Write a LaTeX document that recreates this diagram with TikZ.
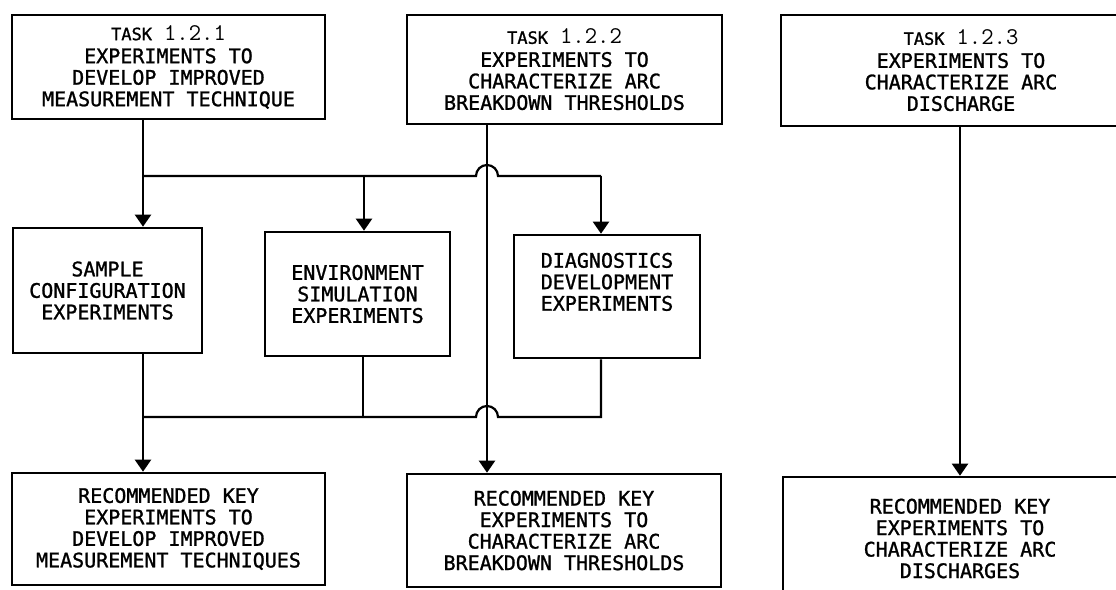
\documentclass[tikz,border=0pt]{standalone}
\usepackage{fontspec}
\newfontfamily\dvm[FakeBold=1.2]{DejaVu Sans Mono}
\usetikzlibrary{arrows.meta}
\newcommand{\tasknum}[1]{{\fontsize{17}{17}\selectfont\dvm TASK} {\fontsize{24}{24}\selectfont\ttfamily\addfontfeature{FakeBold=1.5}#1}}
\tikzset{
  box/.style={draw, line width=2.6pt, inner sep=0pt, align=center,
    font=\fontsize{20}{21.5}\selectfont\dvm},
  conn/.style={line width=2.2pt},
  arr/.style={conn, -{Triangle[length=12pt,width=16pt]}}
}
\begin{document}
\begin{tikzpicture}[x=1pt,y=-1pt]
\path[use as bounding box] (0,0) rectangle (1116,589);
\fill[white] (0,0) rectangle (1116,589);
\clip (0,0) rectangle (1116,589);
% top row
\node[box, minimum width=313pt, minimum height=104pt] (t1) at (168.5,67)
  {\tasknum{1.2.1}\\[1.5pt]EXPERIMENTS TO\\DEVELOP IMPROVED\\MEASUREMENT TECHNIQUE};
\node[box, minimum width=315pt, minimum height=109pt] (t2) at (564.5,69.5)
  {\tasknum{1.2.2}\\[1.5pt]EXPERIMENTS TO\\CHARACTERIZE ARC\\BREAKDOWN THRESHOLDS};
\node[box, minimum width=360pt, minimum height=111pt] (t3) at (961,70.5)
  {\tasknum{1.2.3}\\[1.5pt]EXPERIMENTS TO\\CHARACTERIZE ARC\\DISCHARGE};
% middle row
\node[box, minimum width=189pt, minimum height=125pt] (s) at (107.5,290.5)
  {SAMPLE\\CONFIGURATION\\EXPERIMENTS};
\node[box, minimum width=185pt, minimum height=124pt] (e) at (357.5,294)
  {ENVIRONMENT\\SIMULATION\\EXPERIMENTS};
\node[box, minimum width=186pt, minimum height=123pt] (d) at (607,296.5)
  {DIAGNOSTICS\\DEVELOPMENT\\EXPERIMENTS\\[8pt]};
% bottom row
\node[box, minimum width=313pt, minimum height=112pt] (b1) at (168.5,529)
  {RECOMMENDED KEY\\EXPERIMENTS TO\\DEVELOP IMPROVED\\MEASUREMENT TECHNIQUES};
\node[box, minimum width=314pt, minimum height=113pt] (b2) at (564,530.5)
  {RECOMMENDED KEY\\EXPERIMENTS TO\\CHARACTERIZE ARC\\BREAKDOWN THRESHOLDS};
\node[box, minimum width=354pt, minimum height=123pt] (b3) at (960,538.5)
  {RECOMMENDED KEY\\EXPERIMENTS TO\\CHARACTERIZE ARC\\DISCHARGES};
% junction coordinates
\coordinate (ja) at (143,176);
\coordinate (jb) at (601,176);
\coordinate (je) at (364,176);
\coordinate (la) at (143,417);
\coordinate (lb) at (601,417);
\coordinate (le) at (363,417);
\coordinate (v2) at (487,0);
\coordinate (v3) at (960,0);
% upper distribution
\draw[conn] (t1.south -| ja) -- (ja);
\draw[arr] (ja) -- (s.north -| ja);
\draw[conn] (ja) -- (476,176) arc[start angle=180, end angle=0, radius=11pt] -- (jb);
\draw[arr] (jb) -- (d.north -| jb);
\draw[arr] (je) -- (e.north -| je);
% verticals from task 1.2.2 and 1.2.3
\draw[arr] (t2.south -| v2) -- (b2.north -| v2);
\draw[arr] (t3.south -| v3) -- (b3.north -| v3);
% lower collection
\draw[conn] (s.south -| la) -- (la);
\draw[arr] (la) -- (b1.north -| la);
\draw[conn] (e.south -| le) -- (le);
\draw[conn] (d.south -| lb) -- (lb) -- (498,417) arc[start angle=0, end angle=180, radius=11pt] -- (la);
\end{tikzpicture}
\end{document}
